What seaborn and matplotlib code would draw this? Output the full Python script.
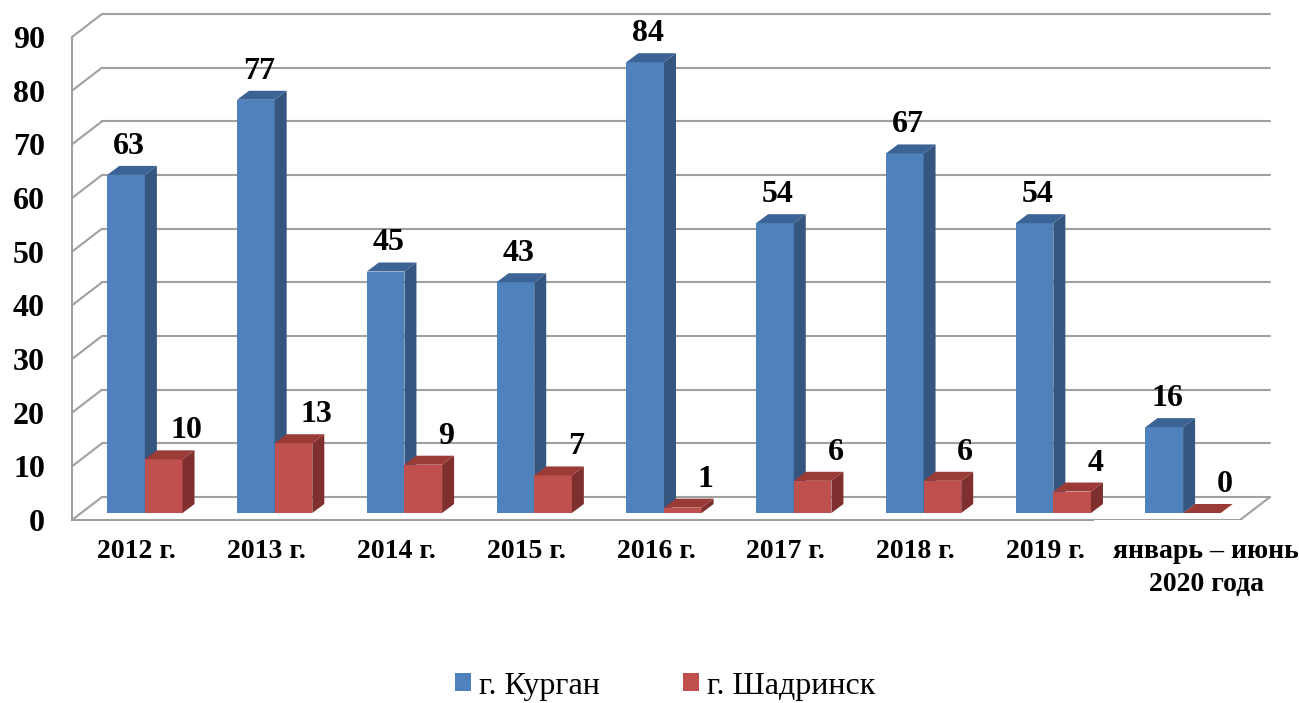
import numpy as np
import pandas as pd
import matplotlib
matplotlib.use("Agg")
import matplotlib.pyplot as plt
import seaborn as sns
from matplotlib.patches import Polygon
from matplotlib.transforms import Affine2D

# данные
periods = ["2012 г.", "2013 г.", "2014 г.", "2015 г.", "2016 г.",
           "2017 г.", "2018 г.", "2019 г.", "январь – июнь\n2020 года"]
cities = ["г. Курган", "г. Шадринск"]
kurgan = [63, 77, 45, 43, 84, 54, 67, 54, 16]
shadrinsk = [10, 13, 9, 7, 1, 6, 6, 4, 0]
y_ticks = list(range(0, 100, 10))

df = pd.DataFrame({
    "period": periods * 2,
    "city": [cities[0]] * len(periods) + [cities[1]] * len(periods),
    "value": kurgan + shadrinsk,
})

# цвета граней
front = {cities[0]: "#4F81BD", cities[1]: "#C0504D"}
side = {cities[0]: "#34567F", cities[1]: "#7F302E"}
top = {cities[0]: "#3C6396", cities[1]: "#9B3B38"}
grid = "#A0A0A0"

sns.set_style("white")
plt.rcParams["font.family"] = ["Liberation Serif", "DejaVu Serif"]
plt.rcParams["text.color"] = "black"
plt.rcParams["xtick.labelcolor"] = "black"
plt.rcParams["ytick.labelcolor"] = "black"

fig = plt.figure(figsize=(12.99, 7.03), dpi=100)
ax = fig.add_axes([72 / 1299, (703 - 520) / 703, 1168 / 1299, 483 / 703])

sns.barplot(data=df, x="period", y="value", hue="city", palette=front,
            saturation=1, width=0.58, linewidth=0, ax=ax)
ax.set_xlim(-0.5, len(periods) - 0.5)
ax.set_ylim(0, 90)
xmin, xmax = ax.get_xlim()

# смещения в пикселях -> в единицы данных
WALL = (30, 23)
SHIFT = (8, 7)
DEPTH = (12, 9)


def off(x, y, d):
    p = ax.transData.transform((x, y)) + np.array(d)
    return ax.transData.inverted().transform(p)


def add(d1, d2):
    return (d1[0] + d2[0], d1[1] + d2[1])


# задняя стенка, левая стенка, пол
for v in y_ticks:
    a, b = off(xmin, v, WALL), off(xmax, v, WALL)
    ax.plot([a[0], b[0]], [a[1], b[1]], color=grid, lw=1.5, zorder=1, clip_on=False)
    ax.plot([xmin, a[0]], [v, a[1]], color=grid, lw=1.5, zorder=1, clip_on=False)
c = off(xmax, 0, WALL)
ax.plot([xmax, c[0]], [0, c[1]], color=grid, lw=1.5, zorder=1, clip_on=False)

# объёмные столбики
for k, (cont, city) in enumerate(zip(ax.containers, cities)):
    vals = kurgan if k == 0 else shadrinsk
    lab_dx = 11 if k == 0 else 31
    for bar, val in zip(cont, vals):
        x0, w, h = bar.get_x(), bar.get_width(), bar.get_height()
        bar.set_transform(ax.transData + Affine2D().translate(*SHIFT))
        bar.set_zorder(3 + k)
        sd = add(SHIFT, DEPTH)
        side_pts = [off(x0 + w, 0, SHIFT), off(x0 + w, h, SHIFT),
                    off(x0 + w, h, sd), off(x0 + w, 0, sd)]
        top_pts = [off(x0, h, SHIFT), off(x0 + w, h, SHIFT),
                   off(x0 + w, h, sd), off(x0, h, sd)]
        ax.add_patch(Polygon(side_pts, closed=True, facecolor=side[city],
                             edgecolor="none", zorder=3 + k, clip_on=False))
        ax.add_patch(Polygon(top_pts, closed=True, facecolor=top[city],
                             edgecolor="none", zorder=3 + k, clip_on=False))
        ax.annotate(str(val), xy=(x0 + w / 2, h), xytext=(lab_dx, 28),
                    textcoords="offset pixels", ha="center", va="baseline",
                    fontsize=23, fontweight="bold", color="black", zorder=6,
                    annotation_clip=False)

# оси
sns.despine(ax=ax, top=True, right=True)
for s in ["left", "bottom"]:
    ax.spines[s].set_color(grid)
    ax.spines[s].set_linewidth(1.5)

ax.set_yticks(y_ticks)
ax.tick_params(axis="y", length=6.5, width=1.5, color=grid, pad=13, labelsize=23,
               labelcolor="black")
for t in ax.get_yticklabels():
    t.set_fontweight("bold")

ax.set_xticks(range(len(periods)), labels=periods, fontsize=20, fontweight="bold",
              linespacing=1.4)
ax.set_xticks(np.arange(xmin, xmax + 0.5, 1), minor=True)
ax.tick_params(axis="x", which="major", length=0, pad=14, labelcolor="black")
ax.tick_params(axis="x", which="minor", length=5, width=1.5, color=grid)
ax.set_xlabel("")
ax.set_ylabel("")

last = ax.get_xticklabels()[-1]
last.set_bbox(dict(facecolor="white", edgecolor="none", boxstyle="square,pad=0.7"))
last.set_transform(last.get_transform() + Affine2D().translate(31, 0))
ax.xaxis.set_zorder(5)

# легенда
handles, labels = ax.get_legend_handles_labels()
if ax.get_legend() is not None:
    ax.get_legend().remove()
fig.legend(handles, labels, loc="center", bbox_to_anchor=(0.512, 0.024), ncol=2,
           frameon=False, prop={"family": ["Liberation Serif", "DejaVu Serif"], "size": 23},
           handlelength=0.5, handleheight=0.5, handletextpad=0.25, columnspacing=2.6)

fig.savefig("out.png", dpi=100)
